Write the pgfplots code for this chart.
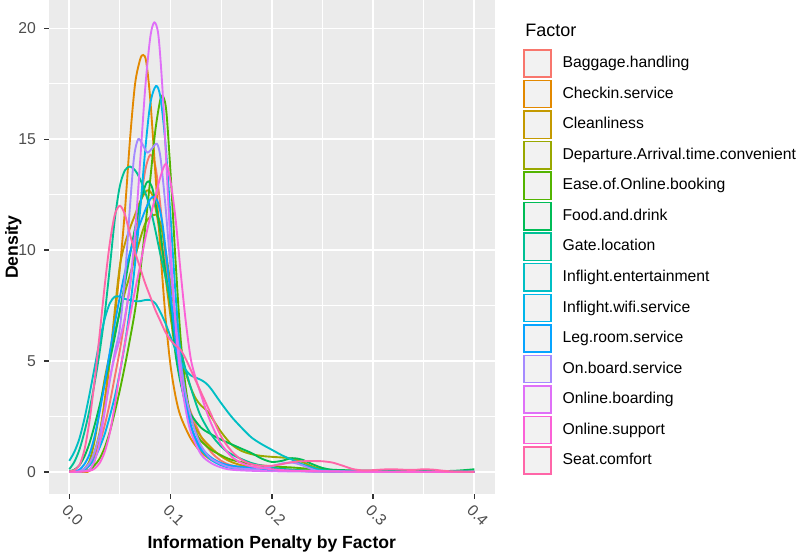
\documentclass[border=0pt]{standalone}
\usepackage{pgfplots}
\pgfplotsset{compat=1.18}
\usepackage{fontspec}
\setmainfont{Liberation Sans}
\definecolor{c1}{HTML}{F8766D}
\definecolor{c2}{HTML}{E38900}
\definecolor{c3}{HTML}{C49A00}
\definecolor{c4}{HTML}{99A800}
\definecolor{c5}{HTML}{53B400}
\definecolor{c6}{HTML}{00BC56}
\definecolor{c7}{HTML}{00C094}
\definecolor{c8}{HTML}{00BFC4}
\definecolor{c9}{HTML}{00B6EB}
\definecolor{c10}{HTML}{06A4FF}
\definecolor{c11}{HTML}{A58AFF}
\definecolor{c12}{HTML}{DF70F8}
\definecolor{c13}{HTML}{FB61D7}
\definecolor{c14}{HTML}{FF66A8}
\definecolor{panelbg}{HTML}{EBEBEB}
\definecolor{tickcol}{HTML}{333333}
\definecolor{labcol}{HTML}{4D4D4D}
\definecolor{keybg}{HTML}{F2F2F2}
\begin{document}
\begin{tikzpicture}
\useasboundingbox (-36.75pt,-45.45pt) rectangle (563.25pt,370.8pt);
\begin{axis}[
  at={(0pt,0pt)}, anchor=south west,
  scale only axis, width=334.2pt, height=370.8pt,
  xmin=-0.02, xmax=0.42, ymin=-1.0135, ymax=21.28,
  axis background/.style={fill=panelbg},
  axis line style={draw=none},
  xtick={0,0.1,0.2,0.3,0.4},
  xticklabels={0.0,0.1,0.2,0.3,0.4},
  ytick={0,5,10,15,20},
  minor xtick={0.05,0.15,0.25,0.35},
  minor ytick={2.5,7.5,12.5,17.5},
  grid=both,
  major grid style={white, line width=1.3pt},
  minor grid style={white, line width=0.65pt},
  tick align=outside, xtick pos=bottom, ytick pos=left,
  major tick length=3.4pt, minor tick length=0pt,
  tick style={tickcol, line width=1.1pt},
  /pgf/number format/assume math mode=true,
  ticklabel style={font=\fontsize{11.8}{14}\selectfont, text=labcol},
  xticklabel style={xshift=2.5pt, rotate=-45, anchor=center},
  xticklabel shift=12pt,
  yticklabel shift=2.9pt,
  xlabel={Information Penalty by Factor},
  ylabel={Density},
  label style={font=\fontsize{13.2}{16}\selectfont\bfseries, text=black},
  xlabel style={at={(axis description cs:0.5,-0.1003)}, anchor=center},
  ylabel style={at={(axis description cs:-0.08,0.5)}, anchor=center},
  dens/.style={line width=1.4pt, smooth, tension=0.5, no markers},
  legend cell align=left,
  legend style={at={(axis description cs:1.0644,0.9003)}, anchor=north west,
    draw=none, fill=none, inner sep=0pt, outer sep=0pt,
    row sep=1.4pt, column sep=8pt,
    font=\fontsize{11.8}{14}\selectfont,
    nodes={inner sep=0pt, text height=8.6pt, text depth=2.4pt}},
  legend image code/.code={\draw[#1, line width=1.1pt, fill=keybg] (0.55pt,-10.2pt) rectangle (20.95pt,10.2pt);},
]
\addplot[dens, c1] coordinates {(0,0) (0.01,0.02) (0.015,0.1) (0.02,0.3) (0.025,0.7) (0.03,1.3) (0.035,2.1) (0.04,3.1) (0.045,4.3) (0.05,5.5) (0.055,6.9) (0.06,8.4) (0.065,10.2) (0.07,12.0) (0.075,13.6) (0.08,14.3) (0.085,13.8) (0.09,12.0) (0.095,9.6) (0.1,7.3) (0.105,5.6) (0.11,4.3) (0.115,3.4) (0.12,2.7) (0.13,1.6) (0.14,0.9) (0.15,0.5) (0.16,0.3) (0.18,0.15) (0.2,0.08) (0.22,0.05) (0.26,0.02) (0.3,0.01) (0.35,0) (0.4,0)};
\addlegendentry{Baggage.handling}
\addplot[dens, c2] coordinates {(0,0) (0.015,0) (0.02,0.05) (0.025,0.5) (0.03,1.6) (0.035,3.25) (0.04,5.1) (0.045,7.0) (0.05,9.2) (0.055,11.8) (0.06,15.0) (0.065,17.5) (0.07,18.6) (0.073,18.8) (0.076,18.5) (0.08,16.8) (0.085,13.5) (0.09,10.0) (0.095,7.0) (0.1,4.8) (0.105,3.4) (0.11,2.5) (0.12,1.5) (0.13,0.9) (0.14,0.55) (0.15,0.35) (0.16,0.25) (0.18,0.15) (0.2,0.1) (0.22,0.06) (0.25,0.03) (0.3,0.01) (0.35,0) (0.4,0)};
\addlegendentry{Checkin.service}
\addplot[dens, c3] coordinates {(0,0) (0.01,0.02) (0.015,0.1) (0.02,0.35) (0.025,0.9) (0.03,1.8) (0.035,3.1) (0.04,5.0) (0.045,7.3) (0.05,9.3) (0.055,10.3) (0.06,11.0) (0.065,11.6) (0.07,12.2) (0.075,12.6) (0.078,12.7) (0.082,12.5) (0.086,11.7) (0.09,10.6) (0.095,8.8) (0.1,7.0) (0.105,5.4) (0.11,4.1) (0.115,3.1) (0.12,2.4) (0.13,1.6) (0.14,1.1) (0.15,0.7) (0.16,0.45) (0.17,0.3) (0.18,0.22) (0.2,0.15) (0.22,0.1) (0.25,0.05) (0.3,0.01) (0.35,0) (0.4,0)};
\addlegendentry{Cleanliness}
\addplot[dens, c4] coordinates {(0,0) (0.01,0.03) (0.015,0.15) (0.02,0.5) (0.025,1.4) (0.03,2.8) (0.035,4.2) (0.04,5.3) (0.045,6.3) (0.05,7.2) (0.055,8.1) (0.06,8.9) (0.065,9.7) (0.07,10.5) (0.075,11.2) (0.08,11.5) (0.086,11.6) (0.09,11.2) (0.095,10.0) (0.1,8.5) (0.105,7.0) (0.11,5.6) (0.115,4.5) (0.12,3.8) (0.125,3.3) (0.13,3.0) (0.135,2.8) (0.14,2.5) (0.15,1.8) (0.16,1.25) (0.17,0.95) (0.18,0.8) (0.19,0.72) (0.2,0.68) (0.21,0.65) (0.22,0.6) (0.23,0.45) (0.24,0.25) (0.25,0.12) (0.26,0.06) (0.28,0.03) (0.3,0.01) (0.35,0) (0.4,0)};
\addlegendentry{Departure.Arrival.time.convenient}
\addplot[dens, c5] coordinates {(0,0) (0.01,0.01) (0.02,0.1) (0.025,0.3) (0.03,0.6) (0.035,1.1) (0.04,1.8) (0.045,2.7) (0.05,3.7) (0.055,4.8) (0.06,6.0) (0.065,7.3) (0.07,9.0) (0.075,11.0) (0.08,13.2) (0.085,15.4) (0.09,16.8) (0.093,16.9) (0.096,16.2) (0.1,13.5) (0.105,9.5) (0.11,6.0) (0.115,3.8) (0.12,2.5) (0.125,1.8) (0.13,1.4) (0.14,1.0) (0.15,0.75) (0.16,0.55) (0.18,0.35) (0.2,0.25) (0.22,0.2) (0.25,0.1) (0.3,0.02) (0.35,0) (0.4,0)};
\addlegendentry{Ease.of.Online.booking}
\addplot[dens, c6] coordinates {(0,0.03) (0.005,0.1) (0.01,0.3) (0.015,0.7) (0.02,1.3) (0.025,2.1) (0.03,3.0) (0.035,4.0) (0.04,5.0) (0.045,6.1) (0.05,7.3) (0.055,8.5) (0.06,9.8) (0.065,11.0) (0.07,12.1) (0.075,12.9) (0.078,13.1) (0.082,12.8) (0.086,11.9) (0.09,10.8) (0.095,9.0) (0.1,7.5) (0.105,5.3) (0.11,4.0) (0.115,3.1) (0.12,2.6) (0.13,2.0) (0.14,1.7) (0.15,1.45) (0.16,1.25) (0.17,1.05) (0.18,0.85) (0.19,0.6) (0.2,0.45) (0.21,0.5) (0.22,0.62) (0.23,0.55) (0.24,0.35) (0.25,0.18) (0.26,0.1) (0.28,0.07) (0.3,0.06) (0.32,0.05) (0.35,0.04) (0.37,0.04) (0.38,0.05) (0.39,0.08) (0.4,0.12)};
\addlegendentry{Food.and.drink}
\addplot[dens, c7] coordinates {(0,0.12) (0.005,0.45) (0.01,1.0) (0.015,1.8) (0.02,2.8) (0.025,4.0) (0.03,5.4) (0.035,7.1) (0.04,9.2) (0.045,11.4) (0.05,12.9) (0.055,13.6) (0.06,13.77) (0.065,13.6) (0.07,13.2) (0.075,12.6) (0.08,11.9) (0.085,10.9) (0.09,9.8) (0.095,8.8) (0.1,7.7) (0.105,6.6) (0.11,5.5) (0.115,4.6) (0.12,3.8) (0.125,3.1) (0.13,2.5) (0.14,1.7) (0.15,1.15) (0.16,0.8) (0.18,0.4) (0.2,0.2) (0.22,0.1) (0.25,0.04) (0.3,0.01) (0.35,0) (0.4,0)};
\addlegendentry{Gate.location}
\addplot[dens, c8] coordinates {(0,0.5) (0.005,0.9) (0.01,1.5) (0.015,2.4) (0.02,3.5) (0.025,4.7) (0.03,5.9) (0.035,6.9) (0.04,7.6) (0.045,7.9) (0.05,7.9) (0.055,7.8) (0.06,7.75) (0.065,7.7) (0.07,7.7) (0.075,7.75) (0.08,7.75) (0.085,7.6) (0.09,7.2) (0.095,6.7) (0.1,6.1) (0.105,5.5) (0.11,5.0) (0.115,4.6) (0.12,4.35) (0.125,4.25) (0.13,4.15) (0.135,4.0) (0.14,3.75) (0.15,3.1) (0.16,2.5) (0.17,2.0) (0.18,1.55) (0.19,1.25) (0.2,1.0) (0.21,0.75) (0.22,0.55) (0.23,0.35) (0.24,0.2) (0.25,0.08) (0.27,0.03) (0.3,0.01) (0.35,0) (0.4,0)};
\addlegendentry{Inflight.entertainment}
\addplot[dens, c9] coordinates {(0,0) (0.01,0.02) (0.015,0.1) (0.02,0.3) (0.025,0.6) (0.03,1.1) (0.035,1.7) (0.04,2.5) (0.045,3.4) (0.05,4.5) (0.055,5.8) (0.06,7.4) (0.065,9.4) (0.07,11.8) (0.075,14.5) (0.08,16.6) (0.0856,17.4) (0.09,16.9) (0.095,14.8) (0.1,11.5) (0.105,8.0) (0.11,5.2) (0.115,3.3) (0.12,2.1) (0.125,1.4) (0.13,1.0) (0.14,0.55) (0.15,0.3) (0.16,0.18) (0.18,0.1) (0.2,0.05) (0.25,0.02) (0.3,0) (0.4,0)};
\addlegendentry{Inflight.wifi.service}
\addplot[dens, c10] coordinates {(0,0) (0.005,0.02) (0.01,0.1) (0.015,0.35) (0.02,0.8) (0.025,1.6) (0.03,2.7) (0.035,4.0) (0.04,5.4) (0.045,6.7) (0.05,7.9) (0.055,9.0) (0.06,9.9) (0.065,10.6) (0.07,11.2) (0.075,11.8) (0.08,12.3) (0.084,12.4) (0.088,12.1) (0.092,11.2) (0.096,9.7) (0.1,8.0) (0.105,5.9) (0.11,4.2) (0.115,3.0) (0.12,2.1) (0.125,1.5) (0.13,1.1) (0.14,0.65) (0.15,0.4) (0.16,0.28) (0.18,0.18) (0.2,0.1) (0.22,0.05) (0.25,0.02) (0.3,0) (0.4,0)};
\addlegendentry{Leg.room.service}
\addplot[dens, c11] coordinates {(0,0) (0.01,0.03) (0.015,0.15) (0.02,0.4) (0.025,0.9) (0.03,1.7) (0.035,2.8) (0.04,4.1) (0.045,5.4) (0.05,6.5) (0.055,8.8) (0.06,12.0) (0.064,14.2) (0.068,15.0) (0.072,14.8) (0.077,14.4) (0.082,14.6) (0.0865,14.8) (0.09,14.2) (0.095,12.0) (0.1,9.2) (0.105,6.8) (0.11,4.9) (0.115,3.5) (0.12,2.5) (0.125,1.75) (0.13,1.2) (0.135,0.85) (0.14,0.6) (0.15,0.35) (0.16,0.2) (0.18,0.12) (0.19,0.15) (0.2,0.25) (0.21,0.38) (0.22,0.42) (0.23,0.3) (0.24,0.12) (0.25,0.04) (0.3,0.01) (0.35,0) (0.4,0)};
\addlegendentry{On.board.service}
\addplot[dens, c12] coordinates {(0,0) (0.01,0.01) (0.015,0.03) (0.02,0.1) (0.025,0.5) (0.03,1.3) (0.035,2.7) (0.04,4.2) (0.045,5.2) (0.05,6.0) (0.055,7.0) (0.06,8.5) (0.065,10.8) (0.07,14.0) (0.075,17.3) (0.08,19.6) (0.084,20.27) (0.088,19.7) (0.092,17.3) (0.096,13.8) (0.1,10.2) (0.105,6.6) (0.11,4.3) (0.115,2.8) (0.12,1.8) (0.13,0.8) (0.14,0.4) (0.15,0.2) (0.16,0.1) (0.18,0.05) (0.2,0.03) (0.25,0.01) (0.3,0) (0.4,0)};
\addlegendentry{Online.boarding}
\addplot[dens, c13] coordinates {(0,0) (0.01,0.01) (0.02,0.05) (0.025,0.15) (0.03,0.4) (0.035,0.9) (0.04,1.75) (0.045,3.0) (0.05,4.5) (0.055,5.8) (0.06,7.0) (0.065,8.2) (0.07,9.3) (0.075,10.5) (0.08,11.5) (0.085,12.4) (0.09,13.3) (0.0955,13.9) (0.1,13.1) (0.105,11.4) (0.11,9.0) (0.115,6.8) (0.12,5.1) (0.125,4.2) (0.13,3.5) (0.135,2.8) (0.14,2.2) (0.145,1.7) (0.15,1.25) (0.16,0.7) (0.17,0.4) (0.18,0.25) (0.2,0.12) (0.22,0.06) (0.25,0.03) (0.3,0.01) (0.35,0) (0.4,0)};
\addlegendentry{Online.support}
\addplot[dens, c14] coordinates {(0,0.02) (0.005,0.08) (0.01,0.3) (0.015,1.0) (0.02,2.3) (0.025,4.1) (0.03,6.2) (0.035,8.4) (0.04,10.3) (0.045,11.6) (0.05,12.0) (0.055,11.6) (0.06,10.7) (0.065,9.9) (0.07,9.2) (0.075,8.5) (0.08,7.9) (0.085,7.3) (0.09,6.8) (0.095,6.3) (0.1,5.95) (0.105,5.7) (0.11,5.5) (0.115,5.1) (0.12,4.6) (0.125,4.1) (0.13,3.6) (0.135,3.1) (0.14,2.6) (0.15,1.6) (0.16,0.95) (0.17,0.55) (0.18,0.35) (0.19,0.28) (0.2,0.28) (0.21,0.35) (0.22,0.44) (0.23,0.48) (0.24,0.49) (0.25,0.48) (0.26,0.42) (0.27,0.28) (0.28,0.13) (0.29,0.07) (0.3,0.08) (0.31,0.11) (0.32,0.12) (0.33,0.1) (0.34,0.09) (0.35,0.12) (0.36,0.1) (0.37,0.05) (0.38,0.02) (0.4,0)};
\addlegendentry{Seat.comfort}
\end{axis}
\node[anchor=west, inner sep=0pt, font=\fontsize{13.5}{16}\selectfont] at (357pt,348.3pt) {Factor};
\end{tikzpicture}
\end{document}
